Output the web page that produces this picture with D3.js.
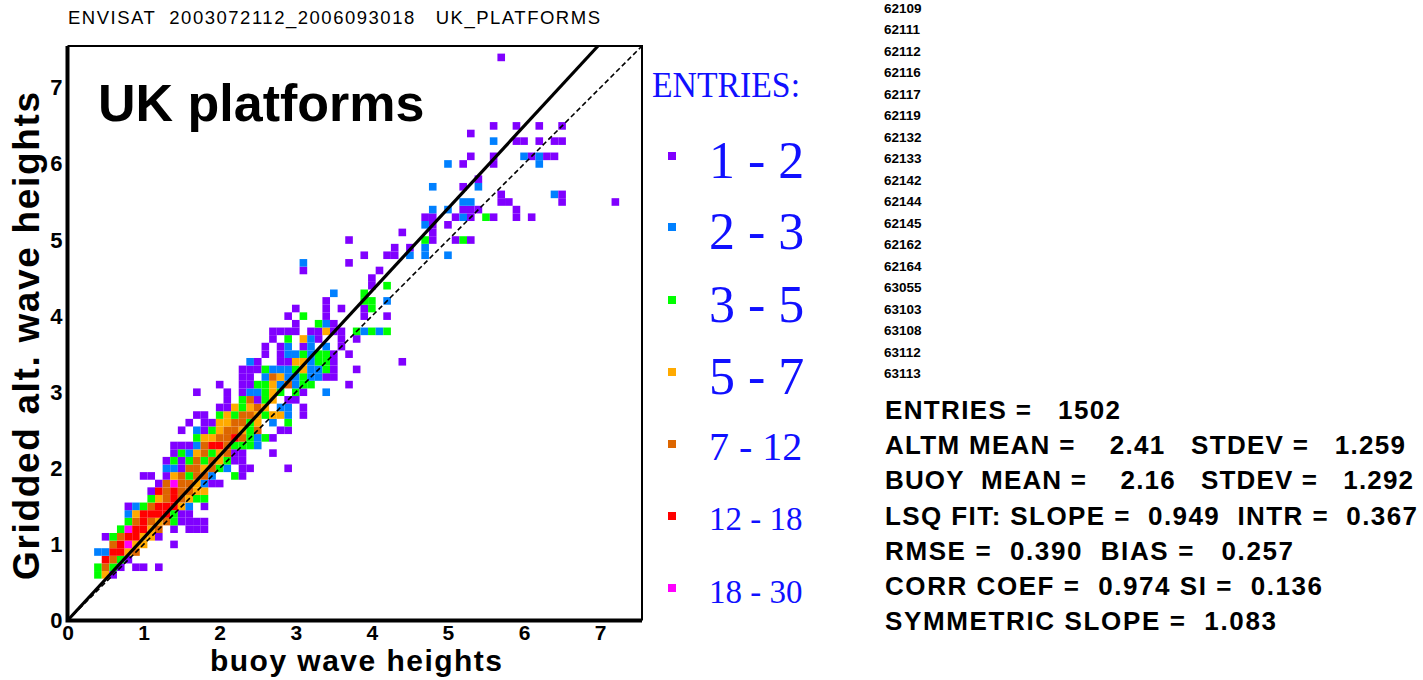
<!DOCTYPE html>
<html><head><meta charset="utf-8">
<script src="https://cdn.jsdelivr.net/npm/d3@7"></script>
<style>
body{margin:0;background:#fff}
svg{display:block}
</style>
</head><body>
<svg id="chart" width="1423" height="680"></svg>
<script>
const titleText = "ENVISAT  2003072112_2006093018   UK_PLATFORMS";
const panelLabel = "UK platforms";
const xTitle = "buoy wave heights";
const yTitle = "Gridded alt. wave heights";
const tickValues = [0, 1, 2, 3, 4, 5, 6, 7];
const axisMax = 7.55;
const binSize = 0.1;
const legendTitle = "ENTRIES:";
const classLabels = ["1 - 2", "2 - 3", "3 - 5", "5 - 7", "7 - 12", "12 - 18", "18 - 30"];
const classColors = ["#8000ff", "#0080ff", "#00ff00", "#ffaa00", "#dd6600", "#ff0000", "#ff00ff"];
const stations = ["62109","62111","62112","62116","62117","62119","62132","62133","62142",
                  "62144","62145","62162","62164","63055","63103","63108","63112","63113"];
const statLines = [
  "ENTRIES =   1502",
  "ALTM MEAN =    2.41   STDEV =   1.259",
  "BUOY  MEAN =    2.16   STDEV =   1.292",
  "LSQ FIT: SLOPE =  0.949  INTR =  0.367",
  "RMSE =  0.390  BIAS =   0.257",
  "CORR COEF =  0.974 SI =  0.136",
  "SYMMETRIC SLOPE =  1.083"
];
const symmetricSlope = 1.083;

// Binned counts: [row (altimeter / 0.1), first column (buoy / 0.1), class code per column]
// class code 1..7 indexes classLabels, '.' marks an empty bin
const cellRows = [
  [6, 4, "341"],
  [7, 4, "3531.11.1"],
  [8, 5, "6531"],
  [9, 4, "226645"],
  [10, 6, "56744...1"],
  [11, 5, "13566441"],
  [12, 7, "376645.1.111"],
  [13, 8, "35654531111"],
  [14, 8, "246666311"],
  [15, 8, "123566642.1"],
  [16, 11, "34565433"],
  [17, 11, "16565544"],
  [18, 12, "157554211"],
  [19, 10, "11.1453552..31"],
  [20, 13, "221554532.11....1"],
  [21, 13, "13135354311"],
  [22, 14, "1324534511...1"],
  [23, 14, "111256653332"],
  [24, 17, "34455653231"],
  [25, 15, "1.213455435..11"],
  [26, 16, "1.11445534.2.3"],
  [27, 17, "11.3435543442.1"],
  [28, 20, "1143454.22.1"],
  [29, 21, "1.35134.11"],
  [30, 17, "1...1.122343.31..2"],
  [31, 20, "1..1133425233....1"],
  [32, 23, "11.2542232211"],
  [33, 23, "1113222342231..1"],
  [34, 24, "21..11442331........1"],
  [35, 26, "1.12232331.1"],
  [36, 26, "1.12.12.2.1"],
  [37, 27, "1.3.421..1.1"],
  [38, 27, "1111.11411.32323"],
  [39, 30, "1..321"],
  [40, 29, "1.3..1....1..1"],
  [41, 30, "1...1.1..13"],
  [42, 34, "1....33.2"],
  [43, 35, "2...3"],
  [44, 40, "1.3"],
  [45, 40, "1"],
  [46, 31, "1.........1"],
  [47, 31, "2.....1"],
  [48, 39, "1..11.2.2..2"],
  [49, 43, "1.1.2"],
  [50, 37, "1.........31..131"],
  [51, 44, "1...1"],
  [52, 47, "21.1"],
  [53, 47, "11..121.31..1.1"],
  [54, 48, "2.2.111....1"],
  [55, 52, "22...11......1......1"],
  [56, 57, "1......21"],
  [57, 48, "2...1.2"],
  [58, 54, "1"],
  [60, 50, "2.1...1.....2"],
  [61, 53, "1..1...21211"],
  [63, 56, "2..11.1.11"],
  [64, 53, "1"],
  [65, 56, "1..1..1..1"],
  [74, 57, "1"]
];

const cells = [];
cellRows.forEach(([row, col0, codes]) => {
  [...codes].forEach((c, k) => {
    if (c !== ".") cells.push({ x: (col0 + k) * binSize, y: row * binSize, cls: +c - 1 });
  });
});

const svg = d3.select("#chart");
const sans = "'Liberation Sans', Arial, Helvetica, sans-serif";
const serif = "'Liberation Serif', 'Times New Roman', serif";

const x = d3.scaleLinear().domain([0, axisMax]).range([67.5, 642]);
const y = d3.scaleLinear().domain([0, axisMax]).range([620.5, 46]);
const color = d3.scaleOrdinal().domain(d3.range(classColors.length)).range(classColors);

// title
svg.append("text").attr("x", 68).attr("y", 24)
  .attr("font-family", sans).attr("font-size", 18.5)
  .attr("textLength", 532).attr("lengthAdjust", "spacing")
  .style("white-space", "pre").text(titleText);

// binned cells
const cw = x(binSize) - x(0), ch = y(0) - y(binSize);
svg.append("g").selectAll("rect").data(cells).join("rect")
  .attr("x", d => x(d.x - binSize / 2))
  .attr("y", d => y(d.y + binSize / 2))
  .attr("width", cw).attr("height", ch)
  .attr("fill", d => color(d.cls));

// 1:1 reference and symmetric-slope fit
const line = d3.line().x(d => x(d[0])).y(d => y(d[1]));
svg.append("path").datum([[0, 0], [axisMax, axisMax]]).attr("d", line)
  .attr("fill", "none").attr("stroke", "#000").attr("stroke-width", 1.6)
  .attr("stroke-dasharray", "5,3");
svg.append("path").datum([[0, 0], [axisMax / symmetricSlope, axisMax]]).attr("d", line)
  .attr("fill", "none").attr("stroke", "#000").attr("stroke-width", 3.2);

// frame: heavier left/bottom axes
const x0 = x(0), x1 = x(axisMax), y0 = y(0), y1 = y(axisMax);
svg.append("path").attr("d", `M${x0},${y1}H${x1}V${y0}`)
  .attr("fill", "none").attr("stroke", "#000").attr("stroke-width", 2);
svg.append("path").attr("d", `M${x0},${y1}V${y0}H${x1}`)
  .attr("fill", "none").attr("stroke", "#000").attr("stroke-width", 4);

// tick labels
const xAxis = svg.append("g").attr("transform", `translate(0,${y0})`)
  .call(d3.axisBottom(x).tickValues(tickValues).tickSize(0).tickPadding(5).tickFormat(d3.format("d")));
xAxis.select(".domain").remove();
xAxis.selectAll("text").attr("font-family", sans).attr("font-size", 21).attr("font-weight", "bold").attr("fill", "#000");

const yAxis = svg.append("g").attr("transform", `translate(${x0},0)`)
  .call(d3.axisLeft(y).tickValues(tickValues).tickSize(0).tickPadding(5).tickFormat(d3.format("d")));
yAxis.select(".domain").remove();
yAxis.selectAll("text").attr("font-family", sans).attr("font-size", 22).attr("font-weight", "bold").attr("fill", "#000");

// axis titles
svg.append("text").attr("x", 356).attr("y", 671).attr("text-anchor", "middle")
  .attr("font-family", sans).attr("font-size", 30).attr("font-weight", "bold")
  .attr("textLength", 292).attr("lengthAdjust", "spacing").text(xTitle);
svg.append("text").attr("transform", "translate(39,336) rotate(-90)").attr("text-anchor", "middle")
  .attr("font-family", sans).attr("font-size", 37).attr("font-weight", "bold")
  .attr("textLength", 488).attr("lengthAdjust", "spacing").text(yTitle);

// panel label
svg.append("text").attr("x", 98).attr("y", 121)
  .attr("font-family", sans).attr("font-size", 52).attr("font-weight", "bold").text(panelLabel);

// legend
const legendBlue = "#1010ff";
svg.append("text").attr("x", 652).attr("y", 97)
  .attr("font-family", serif).attr("font-size", 35).attr("fill", legendBlue)
  .attr("textLength", 148).attr("lengthAdjust", "spacingAndGlyphs").text(legendTitle);
const legendY = [156, 227, 300, 372, 444, 516, 588];
const legendBase = [178, 249, 322, 394, 460, 530, 603];
const legendSize = [52, 52, 52, 52, 40, 33, 33];
const lg = svg.append("g");
lg.selectAll("rect").data(classLabels).join("rect")
  .attr("x", 668).attr("y", (d, i) => legendY[i] - 4).attr("width", 8).attr("height", 8)
  .attr("fill", (d, i) => classColors[i]);
lg.selectAll("text").data(classLabels).join("text")
  .attr("x", 709).attr("y", (d, i) => legendBase[i])
  .attr("font-family", serif).attr("font-size", (d, i) => legendSize[i])
  .attr("fill", legendBlue).style("white-space", "pre").text(d => d);

// station list
svg.append("g").selectAll("text").data(stations).join("text")
  .attr("x", 884).attr("y", (d, i) => 13 + i * 21.47)
  .attr("font-family", sans).attr("font-size", 13.5).attr("font-weight", "bold").text(d => d);

// statistics block
const statEnds = [1120, 1405, 1413, 1417, 1293, 1322, 1276];
svg.append("g").selectAll("text").data(statLines).join("text")
  .attr("x", 885).attr("y", (d, i) => 419 + i * 35.2)
  .attr("font-family", sans).attr("font-size", 26).attr("font-weight", "bold")
  .attr("textLength", (d, i) => statEnds[i] - 885).attr("lengthAdjust", "spacing")
  .style("white-space", "pre").text(d => d);
</script>
</body></html>
